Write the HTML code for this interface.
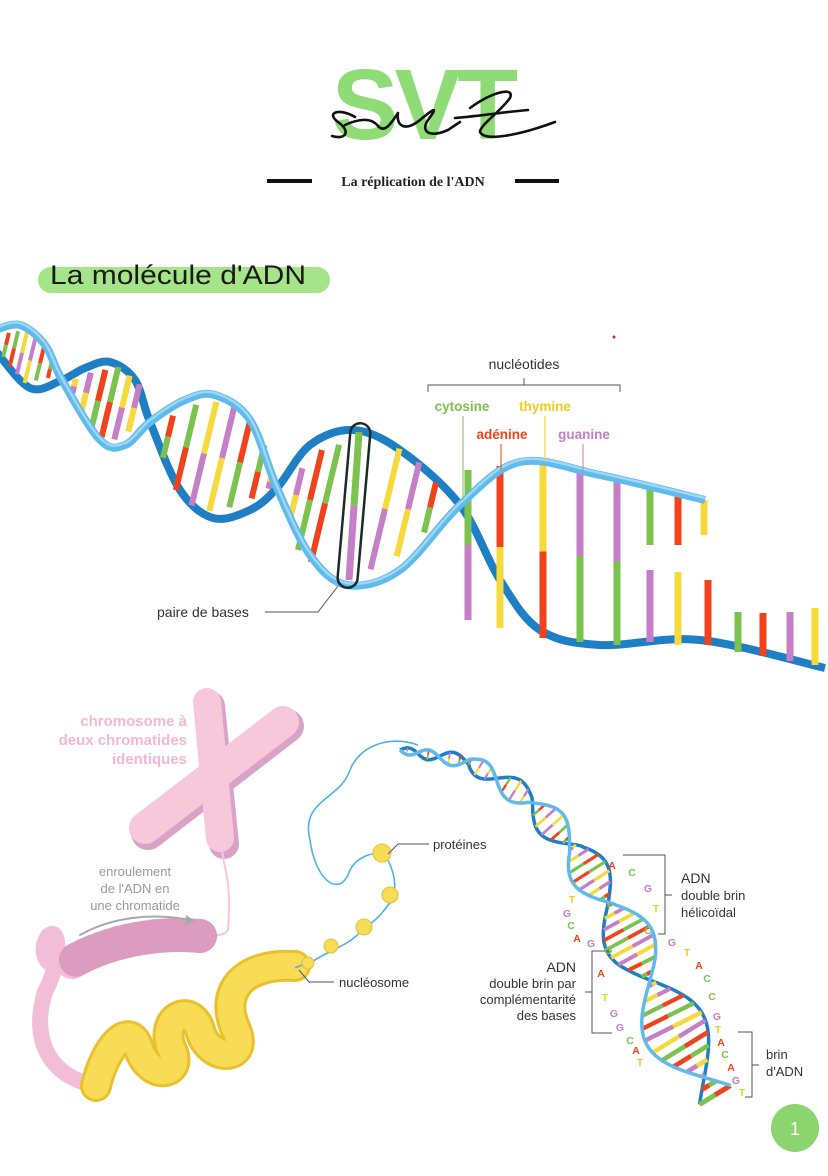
<!DOCTYPE html>
<html><head><meta charset="utf-8"><style>
html,body{margin:0;padding:0;background:#fff;}
body{width:828px;height:1171px;overflow:hidden;font-family:"Liberation Sans","DejaVu Sans",sans-serif;}
</style></head><body>
<svg id="s" width="828" height="1171" viewBox="0 0 828 1171" xmlns="http://www.w3.org/2000/svg" font-family="Liberation Sans, DejaVu Sans, sans-serif">
<!-- header -->
<text x="423" y="139" text-anchor="middle" font-size="100" font-weight="bold" fill="#8fdc77" letter-spacing="-4">SVT</text>
<path d="M355,117 C340,108 325,112 338,122 C352,132 345,140 332,136 M345,125 C360,118 372,118 378,126 C385,134 392,122 398,113 M398,113 C396,126 405,132 420,120 C432,110 440,104 428,120 C420,132 430,138 448,130 L460,122 M470,108 C492,92 515,86 510,98 C500,112 480,125 480,132 C485,142 520,135 555,122 M455,118 C480,116 505,112 528,110" fill="none" stroke="#111" stroke-width="2.6" stroke-linecap="round"/>
<rect x="267" y="179" width="45" height="4" fill="#111"/>
<rect x="515" y="179" width="44" height="4" fill="#111"/>
<text x="413" y="186" text-anchor="middle" font-family="Liberation Serif, serif" font-weight="bold" font-size="14" fill="#222">La réplication de l'ADN</text>
<!-- title -->
<rect x="38" y="267" width="292" height="26" rx="13" fill="#a6e489"/>
<text x="50" y="284" font-size="27" fill="#1a1a1a" textLength="256" lengthAdjust="spacingAndGlyphs">La molécule d'ADN</text>
<circle cx="614" cy="337" r="1.5" fill="#d22"/>
<g id="top"></g>
<!-- labels top -->
<text x="524" y="369" text-anchor="middle" font-size="14" fill="#333">nucléotides</text>
<path d="M428,392 V385 H620 V392 M524,385 V378" fill="none" stroke="#555" stroke-width="1"/>
<text x="462" y="411" text-anchor="middle" font-size="13.5" font-weight="bold" fill="#7cc24e">cytosine</text>
<text x="545" y="411" text-anchor="middle" font-size="13.5" font-weight="bold" fill="#f0cc22">thymine</text>
<text x="502" y="439" text-anchor="middle" font-size="13.5" font-weight="bold" fill="#f0421c">adénine</text>
<text x="584" y="439" text-anchor="middle" font-size="13.5" font-weight="bold" fill="#c57fc6">guanine</text>
<path d="M463,416 V500" stroke="#7cc24e" stroke-width="1"/>
<path d="M545,416 V460" stroke="#f0cc22" stroke-width="1"/>
<path d="M501,444 V470" stroke="#f0421c" stroke-width="1"/>
<path d="M583,444 V475" stroke="#c57fc6" stroke-width="1"/>
<rect x="344" y="423" width="20" height="165" rx="10" fill="none" stroke="#1b2a2a" stroke-width="2.5" transform="rotate(5 354 505)"/>
<text x="157" y="617" font-size="14" fill="#333">paire de bases</text>
<path d="M265,612 H318 L338,586" fill="none" stroke="#555" stroke-width="1"/>
<!-- chromosome -->
<g stroke-linecap="round" fill="none">
<line x1="287" y1="726" x2="148" y2="833" stroke="#d9a3c9" stroke-width="34"/>
<line x1="210" y1="706" x2="224" y2="844" stroke="#d9a3c9" stroke-width="30"/>
<line x1="283" y1="722" x2="145" y2="828" stroke="#f6c8da" stroke-width="32"/>
<line x1="207" y1="702" x2="220" y2="838" stroke="#f6c8da" stroke-width="28"/>
<path d="M222,850 C224,870 232,880 228,930 C226,935 215,936 200,936" stroke="#f6c8da" stroke-width="2"/>
<path d="M70,960 C45,975 38,950 48,936 C60,925 62,960 45,992 C30,1040 50,1078 98,1086" stroke="#f2bdd6" stroke-width="16"/>
<path d="M200,936 C160,932 110,940 72,962" stroke="#f2bdd6" stroke-width="34"/>
<path d="M200,936 C160,932 110,940 72,962" stroke="#dc9cc0" stroke-width="34" stroke-dasharray="2 7"/>
<path d="M295,966 C245,963 218,990 236,1030 C250,1062 208,1062 200,1030 C190,1000 158,1020 172,1050 C184,1076 148,1082 138,1046 C128,1020 104,1050 96,1086" stroke="#e9c02e" stroke-width="32"/>
<path d="M295,966 C245,963 218,990 236,1030 C250,1062 208,1062 200,1030 C190,1000 158,1020 172,1050 C184,1076 148,1082 138,1046 C128,1020 104,1050 96,1086" stroke="#f8dc55" stroke-width="26" stroke-dasharray="6 2"/>
<path d="M80,935 C110,918 150,912 190,920" stroke="#aaa" stroke-width="2"/>
</g>
<path d="M186,915 L195,921 L185,926 Z" fill="#aaa"/>
<!-- blue strand + nucleosomes -->
<path d="M418,745 C390,735 360,745 350,770 C340,800 300,800 310,840 C315,880 340,900 350,870 C355,860 370,850 385,855 C400,880 395,900 388,905 C378,920 368,925 362,930 C350,945 330,950 315,960 C305,965 300,965 295,968" fill="none" stroke="#4fb2e6" stroke-width="1.6"/>
<g fill="#f8dc55" stroke="#e2c03a" stroke-width="1">
<circle cx="382" cy="853" r="9"/><circle cx="390" cy="895" r="8"/><circle cx="364" cy="927" r="8"/><circle cx="331" cy="946" r="7"/><circle cx="308" cy="963" r="6"/>
</g>
<g id="small"></g>
<!-- bottom labels -->
<g font-size="15" font-weight="bold" fill="#f4b8d0" text-anchor="end">
<text x="187" y="726">chromosome à</text><text x="187" y="745">deux chromatides</text><text x="187" y="764">identiques</text></g>
<g font-size="13" fill="#9a9a9a" text-anchor="middle">
<text x="135" y="876">enroulement</text><text x="135" y="893">de l'ADN en</text><text x="135" y="910">une chromatide</text></g>
<text x="433" y="849" font-size="13" fill="#333">protéines</text>
<path d="M429,844 H398 L388,854" fill="none" stroke="#555"/>
<text x="339" y="987" font-size="13" fill="#333">nucléosome</text>
<path d="M334,982 H309 L299,970" fill="none" stroke="#555"/>
<g font-size="14" fill="#333"><text x="681" y="883">ADN</text><text x="681" y="900" font-size="13">double brin</text><text x="681" y="917" font-size="13">hélicoïdal</text></g>
<path d="M623,855 H665 V934 H658 M665,895 H672" fill="none" stroke="#555"/>
<g font-size="13" fill="#333" text-anchor="end"><text x="576" y="972" font-size="14">ADN</text><text x="576" y="988">double brin par</text><text x="576" y="1004">complémentarité</text><text x="576" y="1020">des bases</text></g>
<path d="M612,951 H592 V1033 H612 M592,992 H585" fill="none" stroke="#555"/>
<g font-size="13" fill="#333"><text x="766" y="1059">brin</text><text x="766" y="1076">d'ADN</text></g>
<path d="M738,1032 H752 V1097 H745 M752,1065 H759" fill="none" stroke="#555"/>
<g font-size="10.5" font-weight="bold" text-anchor="middle">
<text x="612" y="869" fill="#f0421c">A</text><text x="632" y="876" fill="#7cc24e">C</text><text x="648" y="892" fill="#c57fc6">G</text><text x="656" y="912" fill="#f0cc22">T</text><text x="648" y="934" fill="#7cc24e">C</text>
<text x="572" y="903" fill="#f0cc22">T</text><text x="567" y="917" fill="#c57fc6">G</text><text x="571" y="929" fill="#7cc24e">C</text><text x="577" y="942" fill="#f0421c">A</text><text x="591" y="947" fill="#c57fc6">G</text>
<text x="672" y="946" fill="#c57fc6">G</text><text x="608" y="954" fill="#7cc24e">C</text><text x="687" y="956" fill="#f0cc22">T</text><text x="699" y="969" fill="#f0421c">A</text><text x="707" y="982" fill="#7cc24e">C</text>
<text x="601" y="977" fill="#f0421c">A</text><text x="712" y="1000" fill="#7cc24e">C</text><text x="605" y="1001" fill="#f0cc22">T</text><text x="614" y="1017" fill="#c57fc6">G</text><text x="717" y="1020" fill="#c57fc6">G</text>
<text x="620" y="1031" fill="#c57fc6">G</text><text x="718" y="1033" fill="#f0cc22">T</text><text x="630" y="1044" fill="#7cc24e">C</text><text x="721" y="1046" fill="#f0421c">A</text><text x="636" y="1054" fill="#f0421c">A</text>
<text x="725" y="1058" fill="#7cc24e">C</text><text x="640" y="1066" fill="#f0cc22">T</text><text x="731" y="1071" fill="#f0421c">A</text><text x="736" y="1084" fill="#c57fc6">G</text><text x="742" y="1096" fill="#f0cc22">T</text></g>
<circle cx="795" cy="1128" r="24" fill="#8bd56f"/>
<text x="795" y="1135" text-anchor="middle" font-size="18" fill="#fff">1</text>
</svg>
<script>
var NS="http://www.w3.org/2000/svg";
var C=["#f0421c","#7cc24e","#f6d93a","#c57fc6"];
function el(p,t,a){var e=document.createElementNS(NS,t);for(var k in a)e.setAttribute(k,a[k]);p.appendChild(e);return e;}
function cr(pts){var d="M"+pts[0][0]+","+pts[0][1];for(var i=0;i<pts.length-1;i++){var p0=pts[i-1]||pts[i],p1=pts[i],p2=pts[i+1],p3=pts[i+2]||p2;d+=" C"+(p1[0]+(p2[0]-p0[0])/6)+","+(p1[1]+(p2[1]-p0[1])/6)+" "+(p2[0]-(p3[0]-p1[0])/6)+","+(p2[1]-(p3[1]-p1[1])/6)+" "+p2[0]+","+p2[1];}return d;}
function yAt(pts,x){for(var i=0;i<pts.length-1;i++){if(x>=pts[i][0]&&x<=pts[i+1][0]){var t=(x-pts[i][0])/(pts[i+1][0]-pts[i][0]);return pts[i][1]+(pts[i+1][1]-pts[i][1])*t;}}return pts[pts.length-1][1];}
var L=[[-5,330],[20,325],[45,345],[62,380],[100,440],[125,445],[150,422],[185,400],[215,395],[250,420],[277,488],[310,555],[347,585],[400,570],[460,505],[520,462],[600,475],[705,500]];
var D=[[-5,350],[30,388],[62,380],[85,368],[110,362],[135,380],[150,422],[180,490],[213,518],[250,510],[277,488],[310,445],[353,430],[400,450],[460,505],[500,580],[540,630],[600,645],[700,640],[825,668]];
var g=document.getElementById("top");
el(g,"path",{d:cr(D),fill:"none",stroke:"#1e7fc4","stroke-width":8});
function bar(x,y1,y2,c1,c2,w,sl){sl=sl||0;var m=(y1+y2)/2;el(g,"line",{x1:x+sl,y1:y1,x2:x,y2:m,stroke:c1,"stroke-width":w||6});el(g,"line",{x1:x,y1:m,x2:x-sl,y2:y2,stroke:c2,"stroke-width":w||6});}
var xs=[6,14,22,30,40,50,74,86,98,110,122,134,168,186,204,222,240,258,270,296,310,325,385,408,430];
xs.forEach(function(x,i){var a=yAt(L,x),b=yAt(D,x);var t=Math.min(a,b)+5,bt=Math.max(a,b)-5;if(bt-t<8)return;var c1=C[i%4],c2=C[(i*3+1)%4];if(c1==c2)c2=C[(i+2)%4];bar(x,t,bt,c1,c2,x<60?4:6,(bt-t)*0.12);});
bar(354,432,580,"#7cc24e","#c57fc6",7,5);
bar(468,470,620,"#7cc24e","#c57fc6",7);bar(500,466,628,"#f0421c","#f6d93a",7);bar(543,465,638,"#f6d93a","#f0421c",7);bar(580,470,642,"#c57fc6","#7cc24e",7);bar(617,478,645,"#c57fc6","#7cc24e",7);
bar(650,486,545,"#7cc24e","#7cc24e",7);bar(650,570,642,"#c57fc6","#c57fc6",7);
bar(678,494,545,"#f0421c","#f0421c",7);bar(678,572,645,"#f6d93a","#f6d93a",7);
bar(704,500,535,"#f6d93a","#f6d93a",7);bar(708,580,645,"#f0421c","#f0421c",7);
bar(738,612,652,"#7cc24e","#7cc24e",7);bar(763,613,656,"#f0421c","#f0421c",7);bar(790,612,661,"#c57fc6","#c57fc6",7);bar(815,608,665,"#f6d93a","#f6d93a",7);
el(g,"path",{d:cr(L),fill:"none",stroke:"#5fbbec","stroke-width":8});
el(g,"path",{d:cr(L),fill:"none",stroke:"#9fd6f4","stroke-width":2.5,transform:"translate(0,-2)"});
// small helix
var sg=document.getElementById("small");
var CL=[[400,750],[470,762],[530,800],[575,850],[610,905],[640,960],[675,1030],[715,1095]];
var samp=[];for(var i=0;i<CL.length-1;i++){for(var k=0;k<20;k++){var t=k/20;samp.push([CL[i][0]+(CL[i+1][0]-CL[i][0])*t,CL[i][1]+(CL[i+1][1]-CL[i][1])*t]);}}samp.push(CL[CL.length-1]);
var s=0,ph=0,A=[],B=[],prev=samp[0];
for(var i=0;i<samp.length;i++){var p=samp[i];var dx=p[0]-prev[0],dy=p[1]-prev[1];var ds=Math.sqrt(dx*dx+dy*dy);s+=ds;var f=s/430;var per=30+f*200;ph+=ds*Math.PI*2/per;prev=p;
var q=samp[Math.min(i+1,samp.length-1)],r=samp[Math.max(i-1,0)];var tx=q[0]-r[0],ty=q[1]-r[1],tl=Math.sqrt(tx*tx+ty*ty)||1;var nx=-ty/tl,ny=tx/tl;var amp=3+f*30;var o=amp*Math.sin(ph);A.push([p[0]+nx*o,p[1]+ny*o]);B.push([p[0]-nx*o,p[1]-ny*o]);}
function pl(P){return "M"+P.map(function(p){return p[0].toFixed(1)+","+p[1].toFixed(1)}).join(" L");}
el(sg,"path",{d:pl(B),fill:"none",stroke:"#1e7fc4","stroke-width":3.5});
for(var i=2;i<A.length;i+=3){var c1=C[i%4],c2=C[(i*7+1)%4];if(c1==c2)c2=C[(i+2)%4];var mx=(A[i][0]+B[i][0])/2,my=(A[i][1]+B[i][1])/2;var w=1.5+i/A.length*3.5;el(sg,"line",{x1:A[i][0],y1:A[i][1],x2:mx,y2:my,stroke:c1,"stroke-width":w});el(sg,"line",{x1:mx,y1:my,x2:B[i][0],y2:B[i][1],stroke:c2,"stroke-width":w});}
el(sg,"path",{d:pl(A),fill:"none",stroke:"#5fbbec","stroke-width":3.5});
</script>
</body></html>
